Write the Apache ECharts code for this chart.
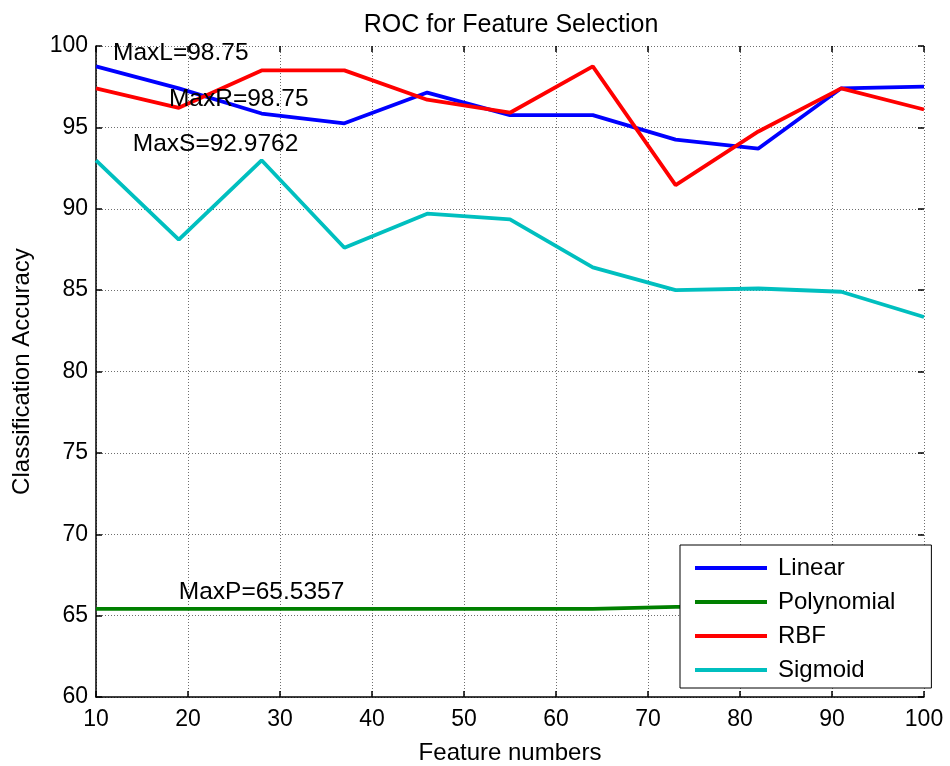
<!DOCTYPE html>
<html>
<head>
<meta charset="utf-8">
<title>ROC for Feature Selection</title>
<script src="https://cdn.jsdelivr.net/npm/echarts@6/dist/echarts.min.js"></script>
<style>
  html, body { margin: 0; padding: 0; background: #ffffff; }
  #chart { width: 950px; height: 766px; }
</style>
</head>
<body>
<div id="chart"></div>
<script>
// Number of selected features on the x axis
const featureNumbers = [10, 19, 28, 37, 46, 55, 64, 73, 82, 91, 100];

// Classification accuracy (%) per SVM kernel
const linearAcc     = [98.75, 97.4, 95.85, 95.25, 97.14, 95.75, 95.75, 94.25, 93.7, 97.4, 97.5];
const polynomialAcc = [65.4167, 65.4167, 65.4167, 65.4167, 65.4167, 65.4167, 65.4167, 65.5357, 65.5357, 65.5357, 65.4167];
const rbfAcc        = [97.4, 96.2, 98.5, 98.5, 96.7, 95.9, 98.75, 91.45, 94.75, 97.4, 96.1];
const sigmoidAcc    = [92.9762, 88.1, 92.9762, 87.6, 89.7, 89.35, 86.4, 85.0, 85.1, 84.9, 83.35];

const seriesNames  = ['Linear', 'Polynomial', 'RBF', 'Sigmoid'];
const maxPrefixes  = ['MaxL', 'MaxP', 'MaxR', 'MaxS'];
// Where each "Max" note is written, in data coordinates [feature number, accuracy]
const noteAnchors  = [[11.85, 99.57], [19.0, 66.42], [17.93, 96.71], [14.0, 93.95]];

const xTicks = { min: 10, max: 100, step: 10 };
const yTicks = { min: 60, max: 100, step: 5 };

const FONT = '"Liberation Sans", Arial, sans-serif';
const colors = ['#0000ff', '#008000', '#ff0000', '#00bfbf'];
const values = [linearAcc, polynomialAcc, rbfAcc, sigmoidAcc];

const series = seriesNames.map((name, i) => {
  const best = Math.max.apply(null, values[i]);
  return {
    name: name,
    type: 'line',
    xAxisIndex: 0,
    yAxisIndex: 0,
    data: featureNumbers.map((x, k) => [x, values[i][k]]),
    showSymbol: false,
    symbol: 'none',
    lineStyle: { color: colors[i], width: 3.8 },
    itemStyle: { color: colors[i] },
    animation: false,
    markPoint: {
      symbol: 'circle',
      symbolSize: 0,
      silent: true,
      animation: false,
      label: {
        show: true,
        position: 'right',
        distance: 0,
        color: '#000',
        fontFamily: FONT,
        fontSize: 24.5,
        formatter: maxPrefixes[i] + '=' + best
      },
      data: [{ coord: noteAnchors[i], value: best }]
    }
  };
});

const gridLine = { show: true, lineStyle: { color: '#6e6e6e', type: [1, 2], width: 1 } };
const tickLabel = { color: '#000', fontFamily: FONT, fontSize: 23 };

const option = {
  backgroundColor: '#ffffff',
  animation: false,
  title: {
    text: 'ROC for Feature Selection',
    left: 506,
    textAlign: 'center',
    top: 8,
    textStyle: { color: '#000', fontFamily: FONT, fontSize: 25, fontWeight: 'normal' }
  },
  grid: { left: 96, right: 26, top: 46, bottom: 69, containLabel: false, outerBoundsMode: 'none' },
  legend: {
    data: seriesNames,
    orient: 'vertical',
    left: 680,
    top: 545,
    icon: 'rect',
    itemWidth: 72,
    itemHeight: 4,
    itemGap: 10,
    padding: [11, 36, 6, 15],
    backgroundColor: '#ffffff',
    borderColor: '#000000',
    borderWidth: 1,
    borderRadius: 0,
    selectedMode: false,
    textStyle: { color: '#000', fontFamily: FONT, fontSize: 24, lineHeight: 24, padding: [0, 0, 0, 6] }
  },
  xAxis: [
    {
      type: 'value',
      min: xTicks.min, max: xTicks.max, interval: xTicks.step,
      name: 'Feature numbers',
      nameLocation: 'middle',
      nameGap: 44,
      nameTextStyle: { color: '#000', fontFamily: FONT, fontSize: 24 },
      axisLine: { show: true, lineStyle: { color: '#000', width: 1.5 } },
      axisTick: { show: true, inside: true, length: 6, lineStyle: { color: '#000', width: 1.5 } },
      axisLabel: Object.assign({ margin: 11 }, tickLabel),
      splitLine: gridLine
    },
    {
      type: 'value', position: 'top',
      min: xTicks.min, max: xTicks.max, interval: xTicks.step,
      axisLine: { show: false },
      axisTick: { show: true, inside: true, length: 6, lineStyle: { color: '#000', width: 1.5 } },
      axisLabel: { show: false },
      splitLine: { show: false }
    }
  ],
  yAxis: [
    {
      type: 'value',
      min: yTicks.min, max: yTicks.max, interval: yTicks.step,
      name: 'Classification Accuracy',
      nameLocation: 'middle',
      nameGap: 62,
      nameTextStyle: { color: '#000', fontFamily: FONT, fontSize: 24 },
      axisLine: { show: true, lineStyle: { color: '#000', width: 1.5 } },
      axisTick: { show: true, inside: true, length: 6, lineStyle: { color: '#000', width: 1.5 } },
      axisLabel: Object.assign({ margin: 8 }, tickLabel),
      splitLine: gridLine
    },
    {
      type: 'value', position: 'right',
      min: yTicks.min, max: yTicks.max, interval: yTicks.step,
      axisLine: { show: false },
      axisTick: { show: true, inside: true, length: 6, lineStyle: { color: '#000', width: 1.5 } },
      axisLabel: { show: false },
      splitLine: { show: false }
    }
  ],
  series: series
};

const chart = echarts.init(document.getElementById('chart'), null, { renderer: 'canvas' });
chart.setOption(option);
</script>
</body>
</html>
